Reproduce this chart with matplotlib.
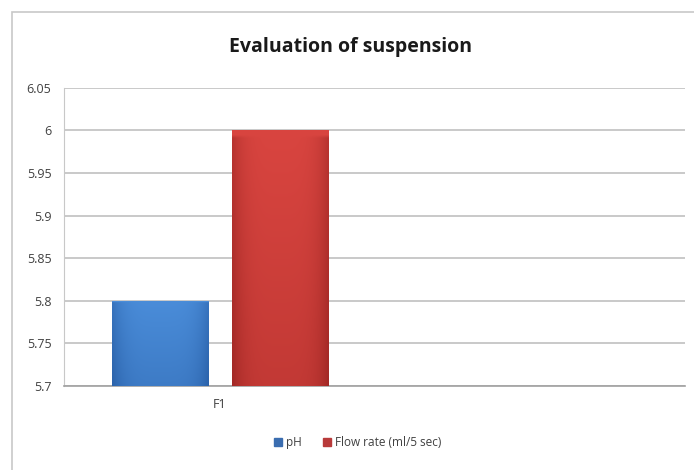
import matplotlib.pyplot as plt
import matplotlib.patches as mpatches
import numpy as np

# chart data
categories = ["F1", ""]
ph = [5.8, np.nan]
flow_rate = [6.0, np.nan]
series_names = ["pH", "Flow rate (ml/5 sec)"]
y_ticks = [5.7, 5.75, 5.8, 5.85, 5.9, 5.95, 6.0, 6.05]

plt.rcParams['font.family'] = ['Open Sans', 'DejaVu Sans']

fig = plt.figure(figsize=(6.94, 4.70), dpi=100)
ax = fig.add_axes([0.0922, 0.179, 0.895, 0.634])

# outer chart frame
fig.patches.append(mpatches.Rectangle((12 / 694, -0.1), 1.1, 1 - 12 / 470 + 0.1,
                                      transform=fig.transFigure, fill=False,
                                      edgecolor='#c8c8c8', linewidth=1.2))

x = np.arange(len(categories))
w = 0.31
bars_ph = ax.bar(x - 0.19, ph, w, bottom=0, color='#3f7fcf', zorder=2)
bars_fr = ax.bar(x + 0.195, flow_rate, w, bottom=0, color='#c83a36', zorder=2)


def shade(bar, light, dark):
    # gradient fill clipped to the bar: darker at the sides and towards the base
    if not np.isfinite(bar.get_height()):
        return
    x0, y0 = bar.get_x(), 5.7
    x1, y1 = x0 + bar.get_width(), bar.get_height()
    h = np.linspace(-1, 1, 60)
    edge = np.abs(h) ** 4
    v = np.linspace(0, 1, 80)[:, None]
    t = np.clip(0.5 * edge[None, :] + 0.35 * v, 0, 1)
    t[:2, :] = 0.0
    light = np.array(light)
    dark = np.array(dark)
    img = light[None, None, :] * (1 - t[..., None]) + dark[None, None, :] * t[..., None]
    im = ax.imshow(img, extent=(x0, x1, y0, y1), aspect='auto', zorder=3,
                   interpolation='bilinear')
    im.set_clip_path(bar)
    bar.set_facecolor('none')


for b in bars_ph:
    shade(b, (0.29, 0.55, 0.85), (0.15, 0.36, 0.64))
for b in bars_fr:
    shade(b, (0.85, 0.27, 0.25), (0.60, 0.14, 0.13))

ax.set_xlim(-0.5, 1.5)
ax.set_ylim(5.7, 6.05)
ax.set_yticks(y_ticks)
ax.set_yticklabels(['%g' % t for t in y_ticks])
ax.set_xticks(x)
ax.set_xticklabels(categories)
ax.tick_params(axis='y', length=0, labelsize=9, colors='#404040', pad=9)
ax.tick_params(axis='x', length=0, labelsize=9, colors='#404040', pad=9)
ax.grid(axis='y', color='#c0c0c0', linewidth=1.2, zorder=0)
ax.set_axisbelow(True)
for s in ['top', 'right']:
    ax.spines[s].set_visible(False)
ax.spines['left'].set_color('#c8c8c8')
ax.spines['bottom'].set_color('#a0a0a0')
ax.spines['bottom'].set_linewidth(1.2)

fig.text(0.505, 0.9, "Evaluation of suspension", ha='center', va='center',
         fontsize=14, fontweight='bold', color='#1a1a1a')

handles = [mpatches.Patch(color='#3a6db0'), mpatches.Patch(color='#b83a3a')]
fig.legend(handles, series_names, loc='center', bbox_to_anchor=(0.515, 0.058),
           ncol=2, frameon=False, fontsize=8.5, handlelength=0.7, handleheight=0.7,
           handletextpad=0.3, columnspacing=1.8, labelcolor='#404040')

fig.savefig('out.png', dpi=100)
